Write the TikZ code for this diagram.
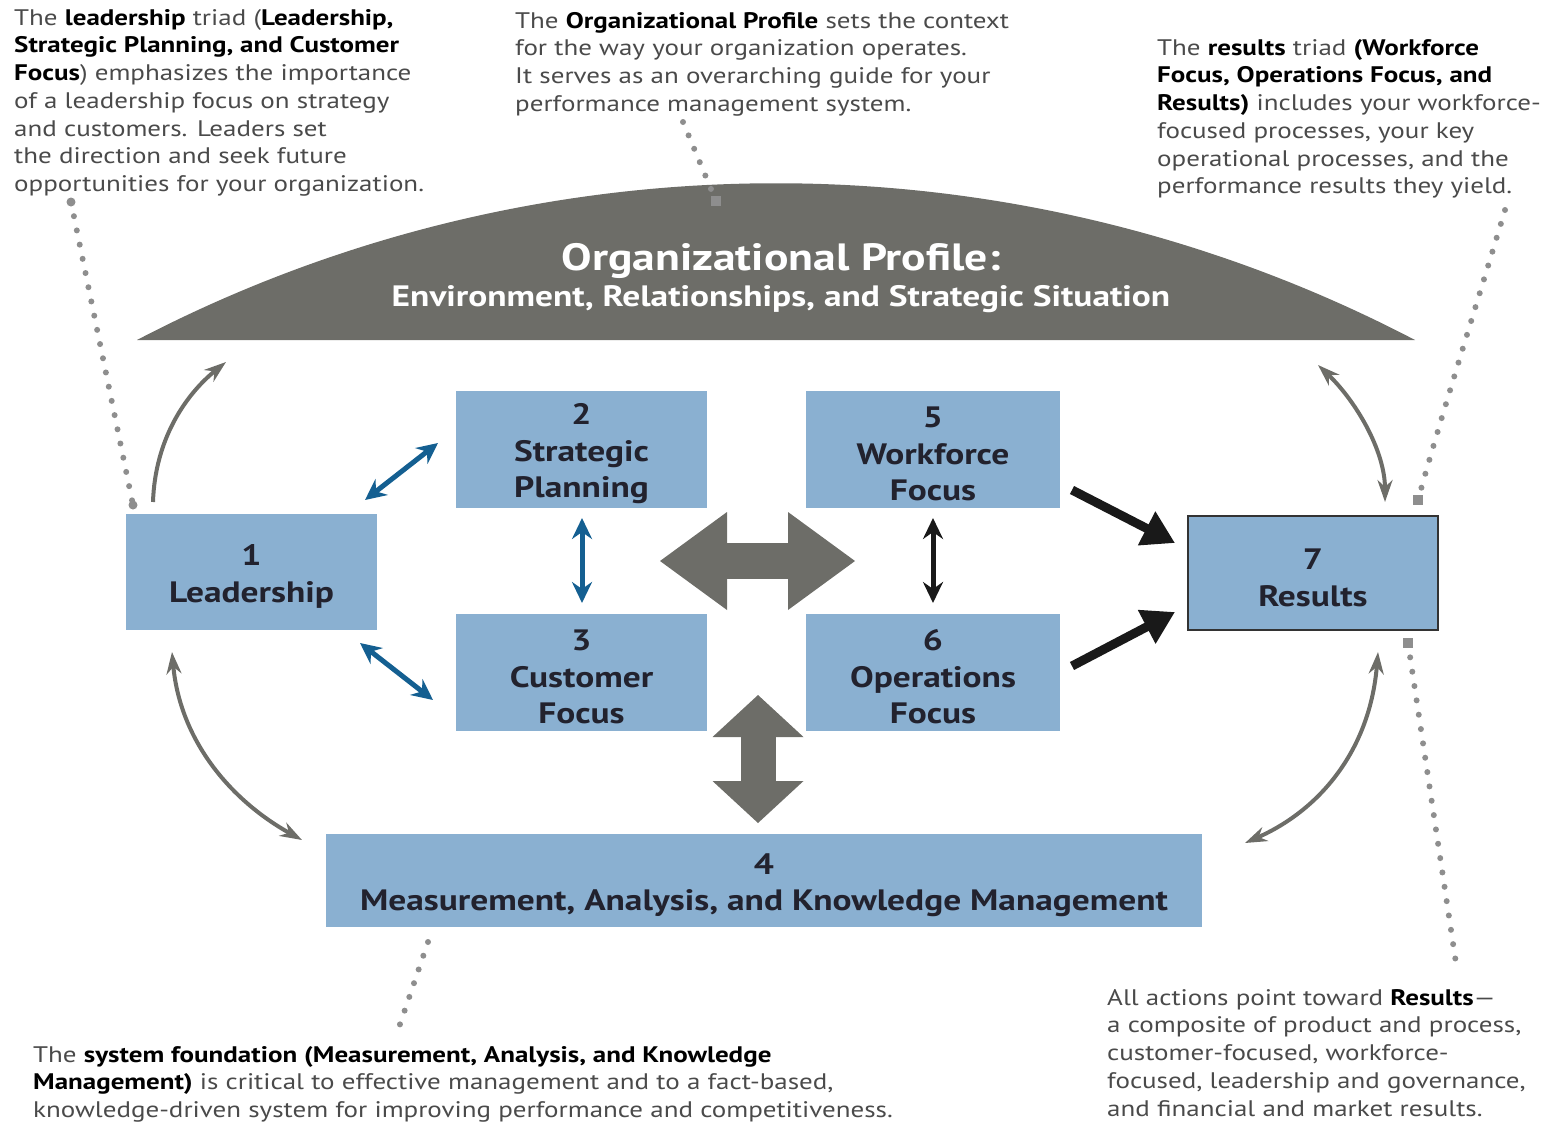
\documentclass[tikz,border=0pt]{standalone}
\usepackage{fontspec}
\setmainfont[FakeStretch=1.2]{PT Sans}
\usetikzlibrary{arrows.meta,calc}

\definecolor{boxblue}{HTML}{8AB0D1}
\definecolor{domegray}{HTML}{6D6D68}
\definecolor{linkblue}{HTML}{145F91}
\definecolor{dotgray}{HTML}{8E8E8E}
\definecolor{boxtext}{HTML}{22222E}
\definecolor{notetext}{HTML}{4A4A4A}

\newcommand{\keyterm}[1]{{\color{black}\bfseries #1}}
% number on the first line of a box, with a bit of room above it
\newcommand{\boxnum}[1]{\rule{0pt}{30pt}#1}

\tikzset{
  block/.style={fill=boxblue, text=boxtext, align=center, inner sep=0pt,
    font=\fontsize{29.5}{36.5}\selectfont\bfseries},
  note/.style={anchor=north west, align=left, inner sep=0pt, text=notetext,
    font=\fontsize{22.5}{27.7}\selectfont},
  leader/.style={dotgray, line width=6pt, line cap=round, dash pattern=on 0pt off 14.5pt},
  loop/.style={domegray, line width=4pt},
  link/.style={linkblue, line width=5pt,
    {Stealth[length=21pt,width=20pt,inset=7pt]}-{Stealth[length=21pt,width=20pt,inset=7pt]}},
  push/.style={black!90, line width=9pt, -{Triangle[length=32pt,width=36pt]}},
  bigarrow/.style={domegray, line width=36pt,
    {Triangle[length=67pt,width=98pt,line width=0pt]}-{Triangle[length=67pt,width=98pt,line width=0pt]}},
}

\begin{document}
\begin{tikzpicture}[x=1pt,y=-1pt]
\useasboundingbox (0,0) rectangle (1550,1122);
% Dome of the organizational profile
\fill[domegray] (137,340) .. controls (537,131) and (1015,131) .. (1415,340) -- cycle;
\node[text=white, font=\fontsize{38}{42}\selectfont\bfseries] (profile) at (781,261) {Organizational Profile:};
\node[text=white, font=\fontsize{29.5}{33}\selectfont\bfseries] (situation) at (781,299) {Environment, Relationships, and Strategic Situation};

% Category boxes
\node[block, minimum width=251pt, minimum height=116pt] (lead) at (251.5,572) {\boxnum{1}\\Leadership};
\node[block, minimum width=251pt, minimum height=117pt] (plan) at (581.5,449.5) {\boxnum{2}\\Strategic\\Planning};
\node[block, minimum width=251pt, minimum height=117pt] (cust) at (581.5,672.5) {\boxnum{3}\\Customer\\Focus};
\node[block, minimum width=254pt, minimum height=117pt] (work) at (933,449.5) {\boxnum{5}\\Workforce\\Focus};
\node[block, minimum width=254pt, minimum height=117pt] (oper) at (933,672.5) {\boxnum{6}\\Operations\\Focus};
\node[block, draw=black!80, line width=2pt, minimum width=250pt, minimum height=114pt] (res) at (1313,573) {\boxnum{7}\\Results};
\node[block, minimum width=876pt, minimum height=93pt] (meas) at (764,880.5) {\boxnum{4}\\Measurement, Analysis, and Knowledge Management};

% Notes around the model
\node[note] (n lead) at (14,9) {The \keyterm{leadership} triad (\keyterm{Leadership,}\\
\keyterm{Strategic Planning, and Customer}\\
\keyterm{Focus}) emphasizes the importance\\
of a leadership focus on strategy\\
and customers. Leaders set\\
the direction and seek future\\
opportunities for your organization.};
\node[note] (n prof) at (515,12) {The \keyterm{Organizational Profile} sets the context\\
for the way your organization operates.\\
It serves as an overarching guide for your\\
performance management system.};
\node[note] (n triad) at (1157,39) {The \keyterm{results} triad \keyterm{(Workforce}\\
\keyterm{Focus, Operations Focus, and}\\
\keyterm{Results)} includes your workforce-\\
focused processes, your key\\
operational processes, and the\\
performance results they yield.};
\node[note] (n found) at (33,1046) {The \keyterm{system foundation (Measurement, Analysis, and Knowledge}\\
\keyterm{Management)} is critical to effective management and to a fact-based,\\
knowledge-driven system for improving performance and competitiveness.};
\node[note] (n res) at (1107,989) {All actions point toward \keyterm{Results}---\\
a composite of product and process,\\
customer-focused, workforce-\\
focused, leadership and governance,\\
and financial and market results.};

% Ends of the connectors
\coordinate (lp a) at (365,500);  \coordinate (lp b) at (438,443);
\coordinate (lc a) at (360,643);  \coordinate (lc b) at (433,700);
\coordinate (pc a) at (582,518);  \coordinate (pc b) at (582,603);
\coordinate (wo a) at (933,518);  \coordinate (wo b) at (933,603);
\coordinate (wr a) at (1072,490); \coordinate (wr b) at (1175,543);
\coordinate (or a) at (1072,666); \coordinate (or b) at (1175,612);
\coordinate (mid w) at (660,561); \coordinate (mid e) at (855,561);
\coordinate (mid n) at (758,695); \coordinate (mid s) at (758,823);
\coordinate (arc 1) at (153,502); \coordinate (arc 2) at (226,362);
\coordinate (arc 3) at (172,652); \coordinate (arc 4) at (302,840);
\coordinate (arc 5) at (1318,365); \coordinate (arc 6) at (1385,502);
\coordinate (arc 7) at (1378,652); \coordinate (arc 8) at (1245,843);

% Blue links of the leadership triad
\draw[link] (lp a) -- (lp b);
\draw[link] (lc a) -- (lc b);
\draw[link] (pc a) -- (pc b);
% Black links of the results triad
\draw[link, black!90] (wo a) -- (wo b);
\draw[push] (wr a) -- (wr b);
\draw[push] (or a) -- (or b);
% Wide arrows in the middle
\draw[bigarrow] (mid w) -- (mid e);
\draw[bigarrow, line width=35pt, {Triangle[length=42pt,width=91pt,line width=0pt]}-{Triangle[length=42pt,width=91pt,line width=0pt]}] (mid n) -- (mid s);

% Outer loops
\draw[loop, -{Stealth[length=22pt,width=15pt]}] (arc 1) .. controls (155,440) and (185,395) .. (arc 2);
\draw[loop, {Stealth[length=22pt,width=15pt]}-{Stealth[length=22pt,width=15pt]}] (arc 3) .. controls (180,740) and (230,800) .. (arc 4);
\draw[loop, {Stealth[length=22pt,width=15pt]}-{Stealth[length=22pt,width=15pt]}] (arc 5) .. controls (1355,400) and (1385,450) .. (arc 6);
\draw[loop, {Stealth[length=22pt,width=15pt]}-{Stealth[length=22pt,width=15pt]}] (arc 7) .. controls (1370,750) and (1320,810) .. (arc 8);

% Dotted leaders from the notes
\coordinate (d1 a) at (71,202);   \coordinate (d1 b) at (133,505);
\coordinate (d2 a) at (683,122);  \coordinate (d2 b) at (716,201);
\coordinate (d3 a) at (1505,210); \coordinate (d3 b) at (1418,500);
\coordinate (d4 a) at (1408,643); \coordinate (d4 b) at (1457,970);
\coordinate (d5 a) at (428,942);  \coordinate (d5 b) at (396,1036);
\draw[leader] (d1 a) -- (d1 b);
\draw[leader] (d2 a) -- (d2 b);
\draw[leader] (d3 a) .. controls (1475,310) and (1440,420) .. (d3 b);
\draw[leader] (d4 a) -- (d4 b);
\draw[leader] (d5 a) -- (d5 b);
% Square and round ends
\fill[dotgray] ($(d2 b)+(-5,-5)$) rectangle ++(10,10);
\fill[dotgray] ($(d3 b)+(-5,-5)$) rectangle ++(10,10);
\fill[dotgray] ($(d4 a)+(-5,-5)$) rectangle ++(10,10);
\fill[dotgray] (d1 a) circle (4.5);
\fill[dotgray] (d1 b) circle (4.5);
\end{tikzpicture}
\end{document}
